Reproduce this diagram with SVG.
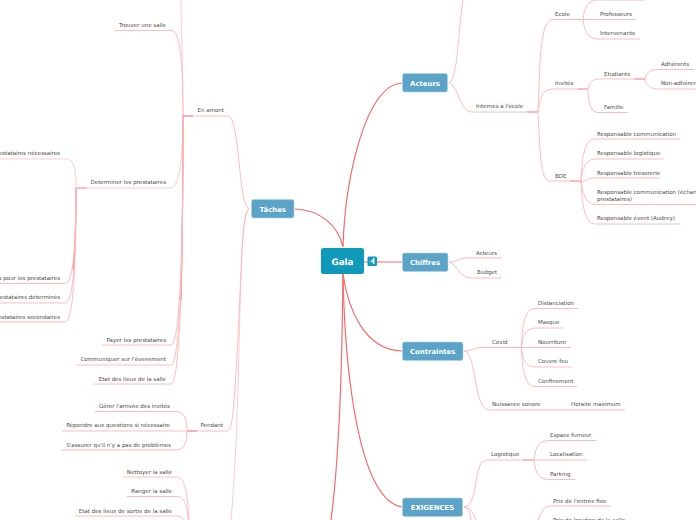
<svg xmlns="http://www.w3.org/2000/svg" width="696" height="520" viewBox="0 0 696 520">
<style>
text{font-family:"DejaVu Sans",Verdana,sans-serif;font-size:5.5px;fill:#4a4a4a;text-rendering:geometricPrecision}
.e{text-anchor:end}
.m{font-size:6.9px;font-weight:bold;fill:#fff;text-anchor:middle}
.g{font-size:8.8px;font-weight:bold;fill:#fff;text-anchor:middle}
.n{fill:#5ba3c7;stroke:#a9d3e6;stroke-width:.6}
#connectors path{fill:none}
.a{stroke:#f66b6b;stroke-width:1.2}
.b{stroke:#ffb4b4;stroke-width:.9}
.c{stroke:#ffcccc;stroke-width:1}
.d{stroke:#f57f7f;stroke-width:1.2}
</style>
<g id="connectors">
<path class="a" d="M343 247C338 225 320 210 295 209M343 247C345 180 365 85 402 83M364 262H402M343 274C348 310 365 350 402 351M343 274C345 380 360 500 402 507"/>
<path class="a" d="M343 274C342 360 340 450 331 520"/>
<path class="b" d="M249 209C238 205 240 116 228 116H183"/>
<path class="c" d="M249 209C240 212 241 300 237 420C235 470 232 510 231 520"/>
<path class="b" d="M249 209C240 212 242 300 234 400C232 425 231 431 226 431H187"/>
<path class="c" d="M183 116C183 70 181 30 181 0"/>
<path class="b" d="M183 116C183 60 180 30.500 171 30.500H115"/>
<path class="c" d="M183 116C183 150 180 188 171 188H87"/>
<path class="d" d="M183 116C183 200 182 260 181 300"/>
<path class="b" d="M183 116C183 250 180 345 171 345H102M183 116C183 260 180 365 171 365H76M183 116C183 270 180 384 171 384H94"/>
<path class="d" d="M183 116H193M76 188H87M187 431H197M527 112H538M573 19.500H583M578 89H588M570 181H581M635 79H645M511 347.500H521.500M523 460H534"/>
<path class="c" d="M76 188C76 170 75 159 65 159H0"/>
<path class="d" d="M76 188C76 220 75 250 73 270"/>
<path class="b" d="M76 188C76 240 74 283.500 65 283.500H0M76 188C76 250 74 303 65 303H0M76 188C76 260 74 322 65 322H0"/>
<path class="b" d="M187 431C187 420 185 411.500 175 411.500H95M187 431H62M187 431C187 442 185 450 175 450H61"/>
<path class="b" d="M189 520C188 500 186 477 177 477H123M189 530C188 510 186 496.500 177 496.500H127M189 540C188 530 186 516 177 516H75"/>
<path class="b" d="M449 83C458 80 458 30 463 0"/>
<path class="b" d="M449 83C458 85 460 112 472 112H538"/>
<path class="b" d="M538 112C540 60 540 19.500 553 19.500H583M538 112C540 100 541 89 553 89H588M538 112C540 150 540 181 550 181H581"/>
<path class="b" d="M583 19.500C584 8 588 0 597 0H645M583 19.500H636M583 19.500C584 30 588 39 597 39H640"/>
<path class="b" d="M588 89C589 84 592 79 598 79H645M588 89C588 100 590 112.500 598 112.500H628"/>
<path class="b" d="M645 79C646 73 650 69.500 658 69.500H694M645 79C646 85 650 89 658 89H696"/>
<path class="b" d="M581 181C582 155 585 139 595 139H680M581 181C582 170 585 159 595 159H664M581 181C582 185 585 178 595 178H660M581 181C582 190 585 204.500 595 204.500H696M581 181C582 205 585 224 595 224H680"/>
<path class="b" d="M449 262C458 262 458 258 467 258H502M449 262C458 264 458 278 472 278H501"/>
<path class="b" d="M464 351C472 351 472 347.500 484 347.500H521M464 351C478 353 472 410 490 410H625"/>
<path class="b" d="M521.500 347.500C522 325 525 308.500 535 308.500H578M521.500 347.500C522 338 525 328 535 328H563M521.500 347.500H571M521.500 347.500C522 358 525 367 535 367H572M521.500 347.500C522 370 525 386.500 535 386.500H577"/>
<path class="b" d="M464 507C480 505 472 460 487 460H534"/>
<path class="b" d="M534 460C535 450 538 440.500 548 440.500H596M534 460H587M534 460C535 470 538 479.500 548 479.500H575"/>
<path class="b" d="M464 507C472 508 474 515 476 520M464 507C470 508 470 515 471 520"/>
<path class="b" d="M538 520C540 515 543 506 550 506H611"/>
</g>
<g id="gala"><rect x="321" y="248" width="43" height="26" rx="2.500" fill="#1199bb"/><text class="g" x="342.500" y="264.500">Gala</text></g>
<g id="toggle"><rect x="367.500" y="256.500" width="9.500" height="9.500" rx="1.500" fill="#1199bb"/><path d="M369 261.500h2.500v-2h1.500v-1.500h1.500v6h-1.500v-1.500h-1.500v-.5h-2.500z" fill="#d8eef5"/></g>
<g id="taches"><rect class="n" x="251.500" y="199.500" width="42.500" height="18.500" rx="2"/><text class="m" x="272.700" y="211.700">Tâches</text></g>
<g id="acteurs"><rect class="n" x="402.500" y="73.500" width="45" height="18.500" rx="2"/><text class="m" x="425" y="85.700">Acteurs</text></g>
<g id="chiffres"><rect class="n" x="402.500" y="253" width="45.500" height="18.500" rx="2"/><text class="m" x="425" y="265.200">Chiffres</text></g>
<g id="contraintes"><rect class="n" x="402.500" y="342" width="60.500" height="18.500" rx="2"/><text class="m" x="432.700" y="354.200">Contraintes</text></g>
<g id="exigences"><rect class="n" x="402.500" y="498" width="60" height="18.500" rx="2"/><text class="m" x="432.500" y="510.200">EXIGENCES</text></g>
<g id="labels-left">
<text class="e" x="166" y="27">Trouver une salle</text>
<text class="e" x="224" y="112">En amont</text>
<text class="e" x="166" y="184">Determiner les prestataires</text>
<text class="e" x="60" y="155">Prestataires nécessaires</text>
<text class="e" x="60" y="280">s pour les prestataires</text>
<text class="e" x="60" y="299">Prestataires determinés</text>
<text class="e" x="60" y="319">Prestataires secondaires</text>
<text class="e" x="166" y="342">Payer les prestataires</text>
<text class="e" x="166" y="361">Communiquer sur l'évenement</text>
<text class="e" x="166" y="381">Etat des lieux de la salle</text>
<text class="e" x="223" y="427">Pendant</text>
<text class="e" x="170" y="408">Gérer l'arrivée des invités</text>
<text class="e" x="170" y="427">Répondre aux questions si nécessaire</text>
<text class="e" x="171" y="447">S'assurer qu'il n'y a pas de problèmes</text>
<text class="e" x="172" y="474">Nettoyer la salle</text>
<text class="e" x="172" y="493">Ranger la salle</text>
<text class="e" x="172" y="513">Etat des lieux de sortie de la salle</text>
</g>
<g id="labels-right">
<text x="476" y="108">Internes à l'école</text>
<text x="555" y="16">Ecole</text>
<text x="600" y="16">Professeurs</text>
<text x="600" y="35">Intervenants</text>
<text x="555" y="85">Invités</text>
<text x="604" y="76">Etudiants</text>
<text x="604" y="109">Famille</text>
<text x="661" y="66">Adhérents</text>
<text x="661" y="85">Non-adhérents</text>
<text x="555" y="178">BDE</text>
<text x="597" y="136">Responsable communication</text>
<text x="597" y="155">Responsable logistique</text>
<text x="597" y="175">Responsable trésorerie</text>
<text x="597" y="194">Responsable communication (échanges</text>
<text x="597" y="201">prestataires)</text>
<text x="597" y="220">Responsable évent (Audrey)</text>
<text x="476" y="255">Acteurs</text>
<text x="477" y="274">Budget</text>
<text x="492" y="344">Covid</text>
<text x="538" y="305">Distanciation</text>
<text x="538" y="324">Masque</text>
<text x="538" y="344">Nourriture</text>
<text x="538" y="363">Couvre feu</text>
<text x="538" y="383">Confinement</text>
<text x="492" y="406">Nuissance sonore</text>
<text x="571" y="406">Horaire maximum</text>
<text x="491" y="456">Logistique</text>
<text x="550" y="437">Espace fumeur</text>
<text x="550" y="456">Localisation</text>
<text x="550" y="476">Parking</text>
<text x="553" y="503">Prix de l'entrée fixe</text>
<text x="553" y="522">Prix de location de la salle</text>
</g>
</svg>
